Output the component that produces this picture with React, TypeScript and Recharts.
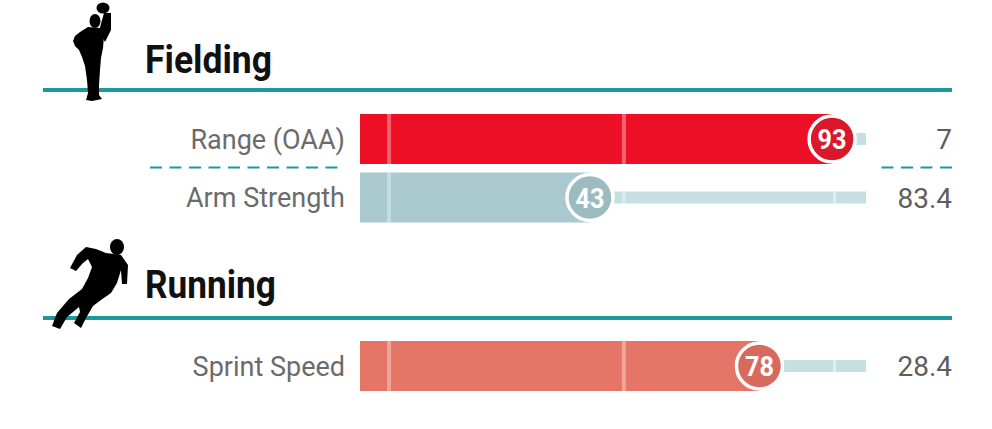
import { BarChart, Bar, XAxis, YAxis } from 'recharts';

// percentile rows
const fieldingLabels = ['Range (OAA)', 'Arm Strength'];
const fieldingPct = [93, 43];
const fieldingRaw = ['7', '83.4'];

const runningLabels = ['Sprint Speed'];
const runningPct = [78];
const runningRaw = ['28.4'];

// faint guide marks along the percentile scale
const guideValues = [1.5, 50, 93.5];

const BAR_START = -4.5;
const ROW_H = 58.5;

const palette: Record<number, { fill: string; dot: string }> = {
  93: { fill: '#ec0f26', dot: '#d9182b' },
  43: { fill: '#a9c9cf', dot: '#9bbbc1' },
  78: { fill: '#e47567', dot: '#d86a5d' },
};

interface Row {
  label: string
  pct: number
  raw: string
}

const makeRows = (labels: string[], pct: number[], raw: string[]): Row[] =>
  labels.map((label, i) => ({ label, pct: pct[i], raw: raw[i] }));

const fieldingRows = makeRows(fieldingLabels, fieldingPct, fieldingRaw);
const runningRows = makeRows(runningLabels, runningPct, runningRaw);

const TEAL = '#1b999b';

function Track(props: any) {
  const { x, y, width, height } = props;
  const cy = y + height / 2;
  return (
    <g>
      <rect x={x} y={cy - 6} width={width} height={12} fill="#c6dfe0" />
      {guideValues.map((g) => (
        <rect key={g} x={x + (width * (g - BAR_START)) / (100 - BAR_START) - 1.5} y={cy - 6} width={3} height={12} fill="#e2eeee" />
      ))}
    </g>
  );
}

function Fill(props: any) {
  const { x, y, width, height, payload } = props;
  const c = palette[payload.pct];
  const cx = x + width;
  const cy = y + height / 2;
  return (
    <g>
      <rect x={x} y={y} width={width} height={height} fill={c.fill} />
      {guideValues.filter((g) => g < payload.pct).map((g) => (
        <rect key={g} x={x + (width * (g - BAR_START)) / (payload.pct - BAR_START) - 2} y={y} width={4} height={height} fill="#fff" fillOpacity={0.35} />
      ))}
      <circle cx={cx} cy={cy} r={23} fill={c.dot} stroke="#fff" strokeWidth={3.5} />
      <text x={cx} y={cy} dy="0.36em" textAnchor="middle" fill="#fff" fontFamily="Roboto" fontWeight={700} fontSize={28} textLength={29} lengthAdjust="spacingAndGlyphs">
        {payload.pct}
      </text>
    </g>
  );
}

function makeLabelTick(count: number) {
  return (props: any) => {
    const { x, y, payload, index } = props;
    return (
      <g>
        <text x={x} y={y} dy="0.36em" textAnchor="end" fill="#6b6b6b" fontFamily="Roboto" fontSize={27}>
          {payload.value}
        </text>
        {index < count - 1 && (
          <line x1={x - 195} x2={x} y1={y + ROW_H / 2 - 1} y2={y + ROW_H / 2 - 1} stroke={TEAL} strokeWidth={2} strokeDasharray="12 7.5" />
        )}
      </g>
    );
  };
}

function makeValueTick(count: number) {
  return (props: any) => {
    const { x, y, payload, index } = props;
    return (
      <g>
        <text x={x} y={y} dy="0.36em" textAnchor="end" fill="#5e5e5e" fontFamily="Roboto" fontSize={28}>
          {payload.value}
        </text>
        {index < count - 1 && (
          <line x1={x} x2={x - 74} y1={y + ROW_H / 2 - 1} y2={y + ROW_H / 2 - 1} stroke={TEAL} strokeWidth={2} strokeDasharray="12 7.5" />
        )}
      </g>
    );
  };
}

function PercentileBars({ rows }: { rows: Row[] }) {
  return (
    <BarChart layout="vertical" width={992} height={ROW_H * rows.length} data={rows} margin={{ top: 0, right: 0, bottom: 0, left: 0 }}>
      <XAxis type="number" domain={[BAR_START, 100]} hide />
      <YAxis yAxisId="left" type="category" dataKey="label" width={360} axisLine={false} tickLine={false} tickSize={0} tickMargin={15} tick={makeLabelTick(rows.length)} interval={0} />
      <YAxis yAxisId="right" orientation="right" type="category" dataKey="raw" width={126} axisLine={false} tickLine={false} tickSize={0} tickMargin={86} tick={makeValueTick(rows.length)} interval={0} />
      <Bar yAxisId="left" dataKey={(d: Row) => [BAR_START, d.pct]} barSize={50} background={Track} shape={Fill} isAnimationActive={false} />
    </BarChart>
  );
}

function Fielder() {
  return (
    <g fill="#000">
      <ellipse cx={103} cy={8} rx={6.5} ry={5.5} />
      <ellipse cx={95} cy={21} rx={5.5} ry={7} />
      <path d="M99 31 L104 13 L111 13 L111 30 L105 42 Z" />
      <path d="M88 27 L100 28 L104 36 L103 48 L101 58 L100 70 L99 85 L99 95 L102 99 L92 101 L86 100 L88 93 L87 80 L85 66 L82 57 L79 50 L75 46 L73 41 L75 36 L80 32 Z" />
    </g>
  );
}

function Runner() {
  return (
    <g fill="#000">
      <ellipse cx={117} cy={247} rx={7} ry={8} />
      <path d="M106 253 L121 255 L128 265 L127 284 L122 284 L121 270 L117 283 L111 293 L101 300 L93 306 L86 318 L81 328 L74 323 L80 312 L79 307 L67 317 L60 329 L52 326 L57 313 L69 299 L82 289 L88 278 L92 267 L88 259 L83 263 L76 271 L70 268 L77 255 L86 247 L96 249 Z" />
    </g>
  );
}

export default function App() {
  return (
    <div style={{ position: 'absolute', left: 0, top: 0, width: 992, height: 429, background: '#fff', fontFamily: 'Roboto' }}>
      <svg width={992} height={429} style={{ position: 'absolute', left: 0, top: 0 }}>
        <rect x={43} y={88} width={909} height={4} fill={TEAL} />
        <rect x={43} y={316} width={909} height={4} fill={TEAL} />
        <Fielder />
        <Runner />
        <text x={145} y={73} fontFamily="Roboto" fontWeight={700} fontSize={38} fill="#111" textLength={127} lengthAdjust="spacingAndGlyphs">Fielding</text>
        <text x={145} y={298} fontFamily="Roboto" fontWeight={700} fontSize={38} fill="#111" textLength={131} lengthAdjust="spacingAndGlyphs">Running</text>
      </svg>
      <div style={{ position: 'absolute', left: 0, top: 110 }}>
        <PercentileBars rows={fieldingRows} />
      </div>
      <div style={{ position: 'absolute', left: 0, top: 337 }}>
        <PercentileBars rows={runningRows} />
      </div>
    </div>
  );
}
